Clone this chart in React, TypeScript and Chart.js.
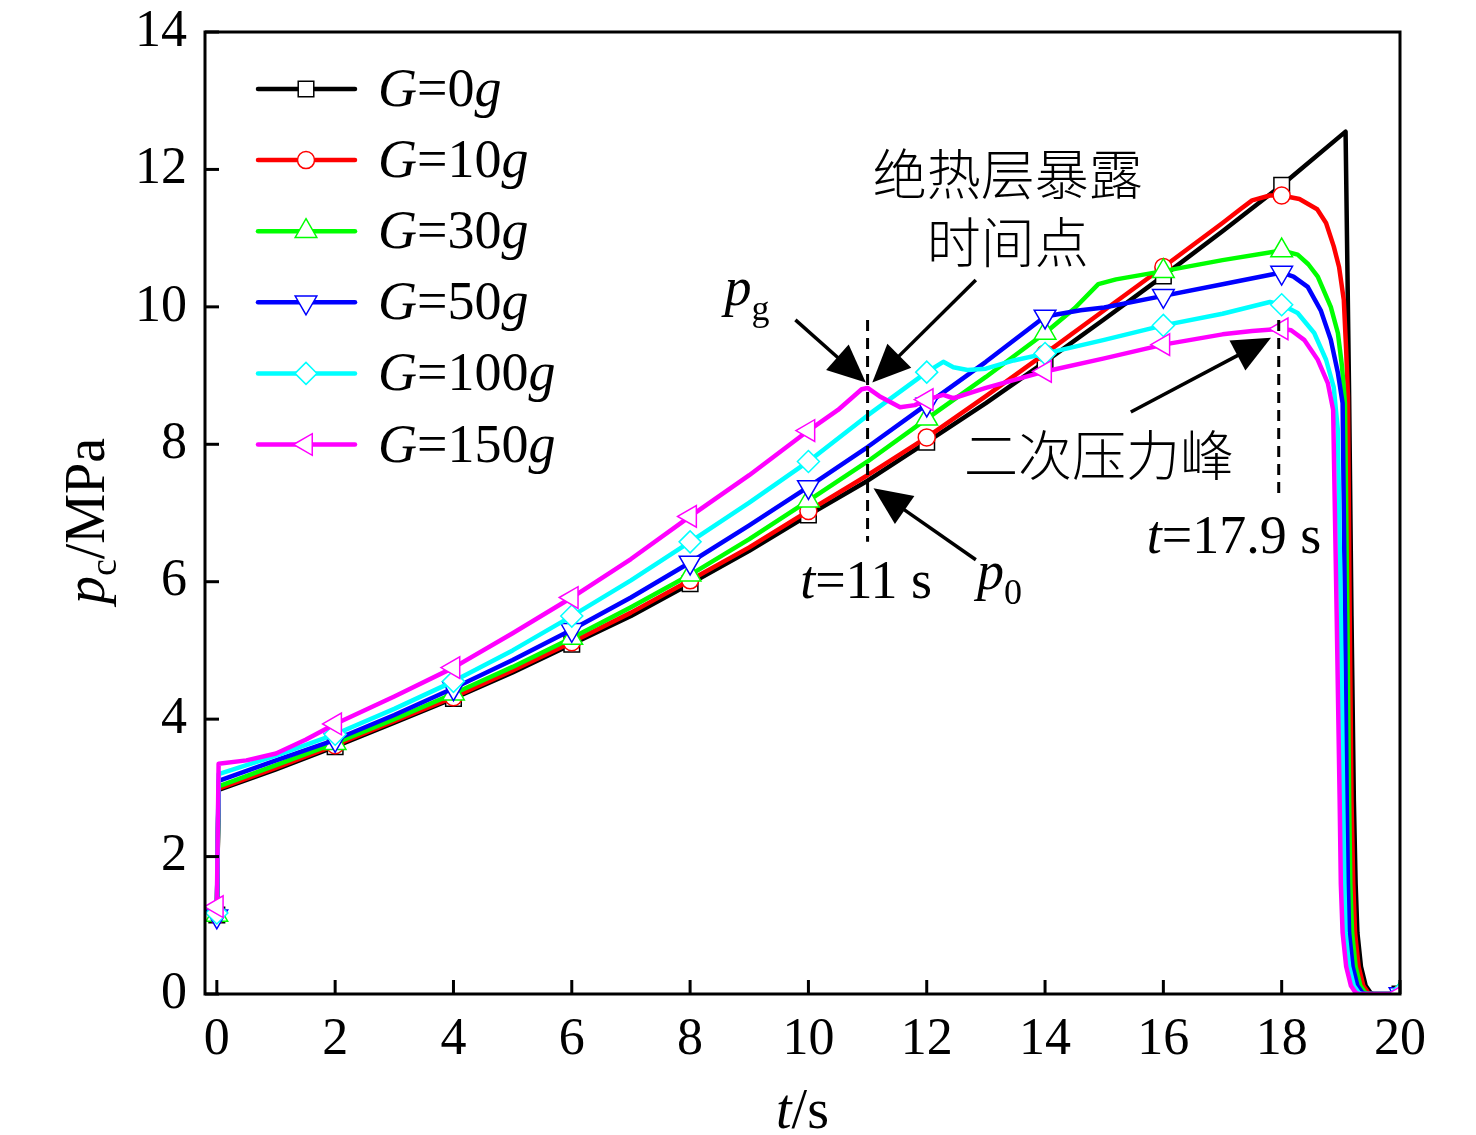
import React, { useEffect, useRef } from 'react';
import { Chart, registerables } from 'chart.js';

Chart.register(...registerables);

// ---------- data ----------
const seriesNames = ['0', '10', '30', '50', '100', '150'];
const seriesColors = ['#000000', '#ff0000', '#00ff00', '#0000ff', '#00ffff', '#ff00ff'];
const seriesPointStyles = ['rect', 'circle', 'triangle', 'triangle', 'rectRot', 'triangle'];
const seriesRotations = [0, 0, 0, 180, 0, 270];
const seriesRadii = [11, 8.5, 12.5, 12.5, 11, 12.5];
const markerTimes = [0, 2, 4, 6, 8, 10, 12, 14, 16, 18, 20];

const tG0 = [0, 0.03, 1, 2, 3, 4, 5, 6, 7, 8, 9, 10, 11, 12, 13, 14, 15, 16, 17, 18, 19.08, 19.14, 19.18, 19.22, 19.25, 19.28, 19.34, 19.42, 19.5, 19.55, 20];
const pG0 = [1.15, 2.97, 3.27, 3.6, 3.95, 4.3, 4.68, 5.09, 5.5, 5.97, 6.45, 6.97, 7.47, 8.03, 8.6, 9.2, 9.82, 10.45, 11.1, 11.77, 12.55, 8.7, 5.5, 2.82, 1.6, 0.89, 0.4, 0.12, 0.02, 0, 0];

const tG10 = [0, 0.03, 1, 2, 3, 4, 5, 6, 7, 8, 9, 10, 11, 12, 13, 14, 15, 16, 17, 17.3, 17.5, 17.8, 18, 18.3, 18.6, 18.75, 18.88, 18.97, 19.05, 19.09, 19.12, 19.15, 19.18, 19.21, 19.24, 19.3, 19.38, 19.46, 19.5, 20];
const pG10 = [1.15, 2.99, 3.29, 3.62, 3.97, 4.32, 4.71, 5.12, 5.55, 6.02, 6.5, 7.03, 7.55, 8.1, 8.7, 9.32, 9.95, 10.58, 11.22, 11.42, 11.55, 11.62, 11.62, 11.57, 11.42, 11.22, 10.88, 10.58, 10.1, 9.37, 8.7, 5.5, 2.82, 1.6, 0.89, 0.4, 0.12, 0.02, 0, 0];

const tG30 = [0, 0.03, 1, 2, 3, 4, 5, 6, 7, 8, 9, 10, 11, 12, 13, 14, 14.5, 14.9, 15.2, 16, 17, 18, 18.27, 18.45, 18.61, 18.83, 18.95, 19.02, 19.07, 19.11, 19.14, 19.16, 19.19, 19.25, 19.33, 19.41, 19.46, 20];
const pG30 = [1.15, 3.02, 3.33, 3.65, 4.0, 4.37, 4.76, 5.18, 5.63, 6.1, 6.62, 7.18, 7.75, 8.37, 8.98, 9.62, 9.98, 10.33, 10.4, 10.52, 10.68, 10.82, 10.76, 10.62, 10.44, 10.0, 9.62, 9.13, 8.6, 5.5, 2.82, 1.6, 0.89, 0.4, 0.12, 0.02, 0, 0];

const tG50 = [0, 0.03, 1, 2, 3, 4, 5, 6, 7, 8, 9, 10, 11, 12, 13, 14, 14.6, 15, 16, 17, 18, 18.2, 18.44, 18.66, 18.83, 18.95, 19.03, 19.07, 19.1, 19.12, 19.14, 19.2, 19.28, 19.36, 19.41, 20];
const pG50 = [1.13, 3.1, 3.4, 3.7, 4.06, 4.45, 4.86, 5.3, 5.77, 6.28, 6.82, 7.38, 7.96, 8.58, 9.2, 9.86, 9.95, 9.99, 10.16, 10.33, 10.5, 10.44, 10.29, 9.95, 9.52, 9.04, 8.6, 5.5, 2.82, 1.6, 0.89, 0.4, 0.12, 0.02, 0, 0];

const tG100 = [0, 0.03, 1, 2, 3, 4, 5, 6, 7, 8, 9, 10, 11, 12, 12.28, 12.45, 12.69, 13, 13.47, 14, 15, 16, 17, 17.8, 18, 18.27, 18.55, 18.75, 18.88, 18.95, 19.0, 19.04, 19.06, 19.08, 19.14, 19.22, 19.3, 19.35, 20];
const pG100 = [1.18, 3.2, 3.47, 3.78, 4.15, 4.55, 5.0, 5.5, 6.02, 6.58, 7.15, 7.75, 8.42, 9.05, 9.2, 9.12, 9.08, 9.1, 9.22, 9.32, 9.52, 9.73, 9.9, 10.07, 10.03, 9.91, 9.62, 9.23, 8.83, 8.2, 5.5, 2.82, 1.6, 0.89, 0.4, 0.12, 0.02, 0, 0];

const tG150 = [0, 0.03, 0.5, 1, 1.5, 2, 3, 4, 5, 6, 7, 8, 9, 10, 10.5, 10.9, 11, 11.2, 11.55, 11.8, 12, 12.28, 12.45, 13, 14, 15, 16, 17, 17.5, 18, 18.16, 18.38, 18.61, 18.78, 18.87, 18.93, 18.98, 19.0, 19.03, 19.09, 19.17, 19.25, 19.3, 20];
const pG150 = [1.27, 3.35, 3.4, 3.5, 3.7, 3.93, 4.33, 4.75, 5.25, 5.77, 6.33, 6.95, 7.55, 8.2, 8.5, 8.8, 8.82, 8.7, 8.54, 8.57, 8.65, 8.72, 8.67, 8.82, 9.06, 9.25, 9.45, 9.6, 9.65, 9.68, 9.66, 9.52, 9.23, 8.89, 8.5, 5.5, 2.82, 1.6, 0.89, 0.4, 0.12, 0.02, 0, 0];

const seriesTimes = [tG0, tG10, tG30, tG50, tG100, tG150];
const seriesPressures = [pG0, pG10, pG30, pG50, pG100, pG150];

const xTicks = [0, 2, 4, 6, 8, 10, 12, 14, 16, 18, 20];
const yTicks = [0, 2, 4, 6, 8, 10, 12, 14];

// annotation anchors in data units [t, p]
const dashedLines = [
  { t: 11, p1: 9.81, p2: 6.58 },
  { t: 17.95, p1: 9.81, p2: 7.26 },
];
const arrows = [
  { from: [9.78, 9.81], to: [10.97, 8.9] },
  { from: [12.83, 10.39], to: [11.08, 8.9] },
  { from: [12.83, 6.32], to: [11.1, 7.36] },
  { from: [15.45, 8.47], to: [17.82, 9.55] },
];

const SERIF = '"Liberation Serif", "Times New Roman", serif';
const CJK = '"Noto Sans CJK SC", sans-serif';

function markerPath(ctx: CanvasRenderingContext2D, style: string, rotDeg: number, r: number, x: number, y: number) {
  const rad = (rotDeg * Math.PI) / 180;
  ctx.beginPath();
  if (style === 'circle') {
    ctx.arc(x, y, r, 0, Math.PI * 2);
  } else if (style === 'rect') {
    const s = Math.SQRT1_2 * r;
    ctx.rect(x - s, y - s, 2 * s, 2 * s);
  } else if (style === 'rectRot') {
    ctx.moveTo(x - r, y);
    ctx.lineTo(x, y - r);
    ctx.lineTo(x + r, y);
    ctx.lineTo(x, y + r);
  } else {
    let a = rad;
    ctx.moveTo(x + Math.sin(a) * r, y - Math.cos(a) * r);
    a += (2 * Math.PI) / 3;
    ctx.lineTo(x + Math.sin(a) * r, y - Math.cos(a) * r);
    a += (2 * Math.PI) / 3;
    ctx.lineTo(x + Math.sin(a) * r, y - Math.cos(a) * r);
  }
  ctx.closePath();
}

function richText(ctx: CanvasRenderingContext2D, parts: { s: string; it?: boolean; size: number; dy?: number }[], x: number, y: number) {
  let cx = x;
  for (const p of parts) {
    ctx.font = `${p.it ? 'italic ' : ''}${p.size}px ${SERIF}`;
    ctx.fillText(p.s, cx, y + (p.dy || 0));
    cx += ctx.measureText(p.s).width;
  }
  return cx - x;
}

function richWidth(ctx: CanvasRenderingContext2D, parts: { s: string; it?: boolean; size: number }[]) {
  let w = 0;
  for (const p of parts) {
    ctx.font = `${p.it ? 'italic ' : ''}${p.size}px ${SERIF}`;
    w += ctx.measureText(p.s).width;
  }
  return w;
}

function drawArrow(ctx: CanvasRenderingContext2D, x1: number, y1: number, x2: number, y2: number) {
  const ang = Math.atan2(y2 - y1, x2 - x1);
  const L = 38;
  const W = 17;
  const bx = x2 - L * Math.cos(ang);
  const by = y2 - L * Math.sin(ang);
  ctx.lineWidth = 3.5;
  ctx.setLineDash([]);
  ctx.beginPath();
  ctx.moveTo(x1, y1);
  ctx.lineTo(bx + 2 * Math.cos(ang), by + 2 * Math.sin(ang));
  ctx.stroke();
  ctx.beginPath();
  ctx.moveTo(x2, y2);
  ctx.lineTo(bx + W * Math.sin(ang), by - W * Math.cos(ang));
  ctx.lineTo(bx - W * Math.sin(ang), by + W * Math.cos(ang));
  ctx.closePath();
  ctx.fill();
}

const decorPlugin = {
  id: 'decor',
  afterDraw(chart: any) {
    const ctx: CanvasRenderingContext2D = chart.ctx;
    const { left, right, top, bottom } = chart.chartArea;
    const xs = chart.scales.x;
    const ys = chart.scales.y;
    ctx.save();
    ctx.strokeStyle = '#000';
    ctx.fillStyle = '#000';
    ctx.lineCap = 'butt';

    // frame
    ctx.lineWidth = 3;
    ctx.strokeRect(left, top, right - left, bottom - top);

    // inner ticks
    ctx.lineWidth = 3;
    for (const v of xTicks) {
      const px = xs.getPixelForValue(v);
      ctx.beginPath();
      ctx.moveTo(px, bottom);
      ctx.lineTo(px, bottom - 14);
      ctx.stroke();
    }
    for (const v of yTicks) {
      const py = ys.getPixelForValue(v);
      ctx.beginPath();
      ctx.moveTo(left, py);
      ctx.lineTo(left + 14, py);
      ctx.stroke();
    }

    // legend
    for (let i = 0; i < seriesNames.length; i++) {
      const cy = 89 + i * 71.1;
      ctx.strokeStyle = seriesColors[i];
      ctx.lineWidth = 4.5;
      ctx.lineCap = 'round';
      ctx.beginPath();
      ctx.moveTo(258, cy);
      ctx.lineTo(355, cy);
      ctx.stroke();
      ctx.lineCap = 'butt';
      markerPath(ctx, seriesPointStyles[i], seriesRotations[i], seriesRadii[i], 306, cy);
      ctx.fillStyle = '#fff';
      ctx.fill();
      ctx.lineWidth = 1.5;
      ctx.stroke();
      ctx.fillStyle = '#000';
      ctx.textBaseline = 'alphabetic';
      ctx.textAlign = 'left';
      richText(ctx, [
        { s: 'G', it: true, size: 54 },
        { s: '=' + seriesNames[i], size: 54 },
        { s: 'g', it: true, size: 54 },
      ], 378, cy + 17);
    }
    ctx.strokeStyle = '#000';
    ctx.fillStyle = '#000';

    // dashed lines
    ctx.lineWidth = 3;
    for (const d of dashedLines) {
      const px = xs.getPixelForValue(d.t);
      ctx.setLineDash([11, 7]);
      ctx.beginPath();
      ctx.moveTo(px, ys.getPixelForValue(d.p1));
      ctx.lineTo(px, ys.getPixelForValue(d.p2));
      ctx.stroke();
    }
    ctx.setLineDash([]);

    // arrows
    for (const a of arrows) {
      drawArrow(ctx, xs.getPixelForValue(a.from[0]), ys.getPixelForValue(a.from[1]), xs.getPixelForValue(a.to[0]), ys.getPixelForValue(a.to[1]));
    }

    // CJK labels
    ctx.textAlign = 'center';
    ctx.textBaseline = 'middle';
    ctx.font = `300 54px ${CJK}`;
    ctx.fillText('绝热层暴露', xs.getPixelForValue(13.37), ys.getPixelForValue(11.92));
    ctx.fillText('时间点', xs.getPixelForValue(13.37), ys.getPixelForValue(10.93));
    ctx.fillText('二次压力峰', xs.getPixelForValue(14.91), ys.getPixelForValue(7.84));

    // math labels
    ctx.textAlign = 'left';
    ctx.textBaseline = 'alphabetic';
    richText(ctx, [
      { s: 'p', it: true, size: 54 },
      { s: 'g', size: 36, dy: 15 },
    ], xs.getPixelForValue(8.58), ys.getPixelForValue(10.03));
    richText(ctx, [
      { s: 't', it: true, size: 54 },
      { s: '=11 s', size: 54 },
    ], xs.getPixelForValue(9.86), ys.getPixelForValue(5.76));
    richText(ctx, [
      { s: 'p', it: true, size: 54 },
      { s: '0', size: 36, dy: 15 },
    ], xs.getPixelForValue(12.85), ys.getPixelForValue(5.9));
    richText(ctx, [
      { s: 't', it: true, size: 54 },
      { s: '=17.9 s', size: 54 },
    ], xs.getPixelForValue(15.72), ys.getPixelForValue(6.42));

    // axis titles
    const xt = [
      { s: 't', it: true, size: 56 },
      { s: '/s', size: 56 },
    ];
    const xw = richWidth(ctx, xt);
    richText(ctx, xt, (left + right) / 2 - xw / 2, 1128);

    const yt = [
      { s: 'p', it: true, size: 56 },
      { s: 'c', size: 38, dy: 12 },
      { s: '/MPa', size: 56 },
    ];
    const yw = richWidth(ctx, yt);
    ctx.save();
    ctx.translate(104, (top + bottom) / 2 + 8);
    ctx.rotate(-Math.PI / 2);
    richText(ctx, yt, -yw / 2, 0);
    ctx.restore();

    ctx.restore();
  },
};

export default function App() {
  const ref = useRef<HTMLCanvasElement | null>(null);
  useEffect(() => {
    if (!ref.current) return;
    const font = { family: SERIF, size: 52 };
    const datasets = seriesNames.map((n, i) => ({
      label: `G=${n}g`,
      data: seriesTimes[i].map((t, j) => ({ x: t, y: seriesPressures[i][j] })),
      borderColor: seriesColors[i],
      backgroundColor: seriesColors[i],
      borderWidth: 4.5,
      borderJoinStyle: 'round',
      pointStyle: seriesPointStyles[i],
      pointRotation: seriesRotations[i],
      pointRadius: (c: any) => (c.raw && markerTimes.includes(c.raw.x) ? seriesRadii[i] : 0),
      pointHoverRadius: 0,
      pointBackgroundColor: '#ffffff',
      pointBorderColor: seriesColors[i],
      pointBorderWidth: 1.5,
      tension: 0,
      fill: false,
      order: 6 - i,
    }));
    const chart = new Chart(ref.current, {
      type: 'line',
      data: { datasets },
      options: {
        responsive: false,
        animation: false,
        devicePixelRatio: 1,
        events: [],
        layout: { padding: { left: 0, right: 76, top: 32, bottom: 0 } },
        plugins: { legend: { display: false }, tooltip: { enabled: false } },
        scales: {
          x: {
            type: 'linear',
            min: -0.2,
            max: 20,
            afterBuildTicks: (s: any) => {
              s.ticks = xTicks.map((v) => ({ value: v }));
            },
            ticks: { font, color: '#000', padding: 15, maxRotation: 0, autoSkip: false, callback: (v: any) => String(v) },
            grid: { display: false, drawTicks: false },
            border: { display: false },
            afterFit: (s: any) => {
              s.height = 141;
              s.paddingLeft = 0;
              s.paddingRight = 0;
            },
          },
          y: {
            type: 'linear',
            min: 0,
            max: 14,
            afterBuildTicks: (s: any) => {
              s.ticks = yTicks.map((v) => ({ value: v }));
            },
            ticks: { font, color: '#000', padding: 18, callback: (v: any) => String(v) },
            grid: { display: false, drawTicks: false },
            border: { display: false },
            afterFit: (s: any) => {
              s.width = 205;
              s.paddingTop = 0;
              s.paddingBottom = 0;
            },
          },
        },
      },
      plugins: [decorPlugin],
    } as any);
    return () => chart.destroy();
  }, []);
  return (
    <div style={{ position: 'fixed', left: 0, top: 0, width: 1476, height: 1135, background: '#fff' }}>
      <canvas ref={ref} width={1476} height={1135} style={{ width: 1476, height: 1135, display: 'block' }} />
    </div>
  );
}
